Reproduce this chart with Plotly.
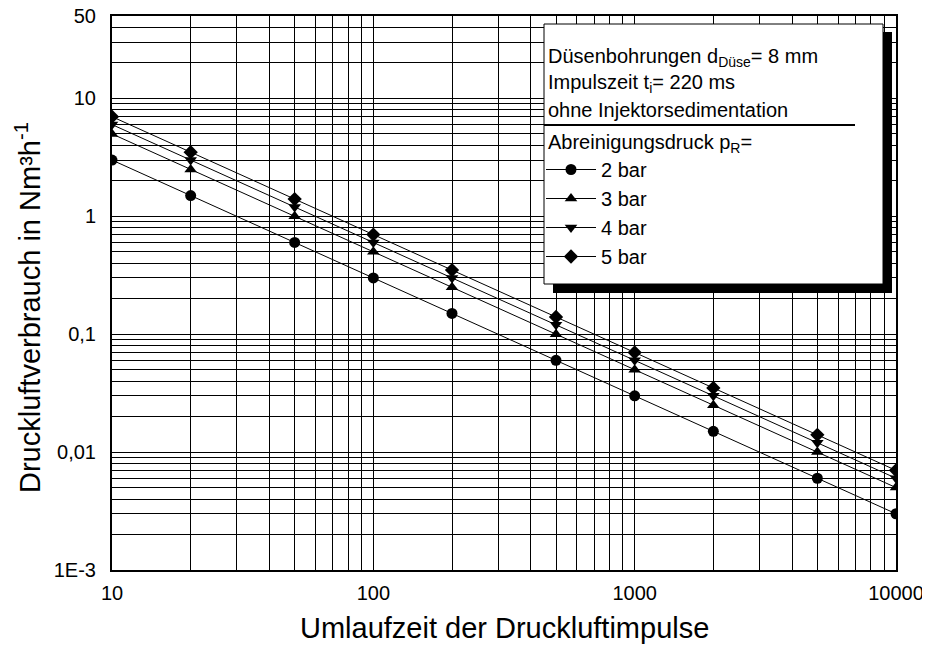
import plotly.graph_objects as go

x_vals = [10, 20, 50, 100, 200, 500, 1000, 2000, 5000, 10000]
p2 = [3, 1.5, 0.6, 0.3, 0.15, 0.06, 0.03, 0.015, 0.006, 0.003]
p3 = [5, 2.5, 1.0, 0.5, 0.25, 0.1, 0.05, 0.025, 0.01, 0.005]
p4 = [6, 3.0, 1.2, 0.6, 0.3, 0.12, 0.06, 0.03, 0.012, 0.006]
p5 = [7, 3.5, 1.4, 0.7, 0.35, 0.14, 0.07, 0.035, 0.014, 0.007]
series_names = ["2 bar", "3 bar", "4 bar", "5 bar"]
symbols = ["circle", "triangle-up", "triangle-down", "diamond"]

x_ticks = [10, 100, 1000, 10000]
x_ticktext = ["10", "100", "1000", "10000"]
y_ticks = [0.001, 0.01, 0.1, 1, 10, 50]
y_ticktext = ["1E-3", "0,01", "0,1", "1", "10", "50"]

OFF = 8  # page body margin
W, H = 930 - OFF, 652 - OFF
# plot area in screen pixels
L, R, T, B = 112, 896, 16, 570

def px(x):
    return (x - L) / (R - L)

def py(y):
    return (B - y) / (B - T)

x_minor = [m * 10 ** e for e in range(1, 4) for m in range(2, 10)]
y_minor = [m * 10 ** e for e in range(-3, 2) for m in range(2, 10) if m * 10 ** e < 50]

FONT = "Liberation Sans, Arial, sans-serif"
fig = go.Figure()
for name, sym, ys in zip(series_names, symbols, [p2, p3, p4, p5]):
    fig.add_trace(go.Scatter(
        x=x_vals, y=ys, name=name, mode="lines+markers",
        line=dict(color="black", width=1),
        marker=dict(symbol=sym, size=11, color="black"),
        legendgroup=name,
    ))

shapes = [
    dict(type="rect", xref="paper", yref="paper", x0=px(553), x1=px(892), y0=py(293), y1=py(32),
         fillcolor="black", line=dict(width=0), layer="above"),
    dict(type="rect", xref="paper", yref="paper", x0=px(544), x1=px(883), y0=py(284), y1=py(24),
         fillcolor="white", line=dict(color="black", width=1), layer="above"),
    dict(type="line", xref="paper", yref="paper", x0=px(544), x1=px(855), y0=py(125), y1=py(125),
         line=dict(color="black", width=2), layer="above"),
]

header = [
    ("Düsenbohrungen d<sub>Düse</sub>= 8 mm", 57),
    ("Impulszeit t<sub>i</sub>= 220 ms", 83),
    ("ohne Injektorsedimentation", 110),
    ("Abreinigungsdruck p<sub>R</sub>=", 143),
]
annotations = [
    dict(text=t, x=px(546), y=py(yc), xref="paper", yref="paper", xanchor="left", yanchor="middle",
         showarrow=False, font=dict(size=20, color="black", family=FONT))
    for t, yc in header
]
annotations.append(dict(text="Druckluftverbrauch in Nm³h<sup>-1</sup>", x=px(28), y=py(308),
                        xref="paper", yref="paper", xanchor="center", yanchor="middle",
                        textangle=-90, showarrow=False, font=dict(size=29, color="black", family=FONT)))
annotations.append(dict(text="Umlaufzeit der Druckluftimpulse", x=0.5, y=py(628),
                        xref="paper", yref="paper", xanchor="center", yanchor="middle",
                        showarrow=False, font=dict(size=29, color="black", family=FONT)))

fig.update_layout(
    width=W, height=H,
    margin=dict(l=L - OFF, r=W - (R - OFF), t=T - OFF, b=H - (B - OFF), pad=0, autoexpand=False),
    paper_bgcolor="white", plot_bgcolor="white",
    font=dict(family=FONT, color="black", size=20),
    shapes=shapes, annotations=annotations,
    showlegend=True,
    legend=dict(x=px(541), y=py(150), xanchor="left", yanchor="top",
                bgcolor="rgba(0,0,0,0)", borderwidth=0,
                font=dict(size=20, family=FONT, color="black"),
                tracegroupgap=0, itemwidth=50),
    xaxis=dict(type="log", range=[1, 4], tickmode="array", tickvals=x_ticks, ticktext=x_ticktext,
               showgrid=True, gridcolor="black", gridwidth=1,
               showline=True, linecolor="black", linewidth=2, mirror=True,
               ticks="", tickfont=dict(size=20), ticklabelstandoff=4, ticklabeloverflow="allow",
               automargin=False,
               minor=dict(tickmode="array", tickvals=x_minor, showgrid=True, gridcolor="black", gridwidth=1),
               zeroline=False),
    yaxis=dict(type="log", range=[-3.0001, 1.6991], tickmode="array", tickvals=y_ticks, ticktext=y_ticktext,
               showgrid=True, gridcolor="black", gridwidth=1,
               showline=True, linecolor="black", linewidth=2, mirror=True,
               ticks="", tickfont=dict(size=20), ticklabelstandoff=10, ticklabeloverflow="allow",
               automargin=False,
               minor=dict(tickmode="array", tickvals=y_minor, showgrid=True, gridcolor="black", gridwidth=1),
               zeroline=False),
)

fig.write_html("out.html")
